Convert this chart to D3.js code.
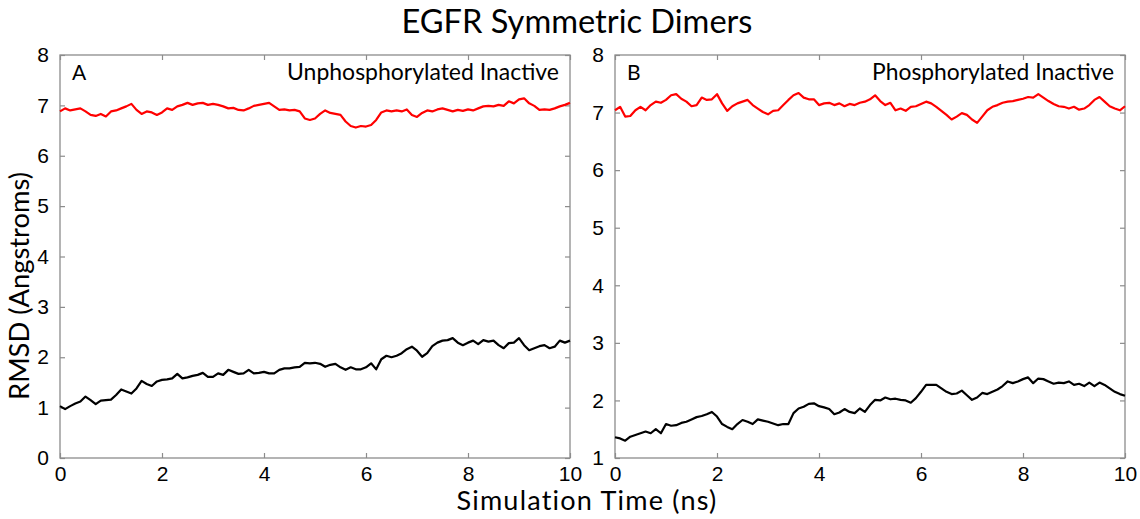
<!DOCTYPE html>
<html><head><meta charset="utf-8">
<script src="https://cdn.jsdelivr.net/npm/d3@7"></script>
<style>body{margin:0;background:#fff}svg{display:block}</style>
</head><body>
<svg id="chart" width="1140" height="519"></svg>
<script>
const timeNs = [0,0.1,0.2,0.3,0.4,0.5,0.6,0.7,0.8,0.9,1,1.1,1.2,1.3,1.4,1.5,1.6,1.7,1.8,1.9,2,2.1,2.2,2.3,2.4,2.5,2.6,2.7,2.8,2.9,3,3.1,3.2,3.3,3.4,3.5,3.6,3.7,3.8,3.9,4,4.1,4.2,4.3,4.4,4.5,4.6,4.7,4.8,4.9,5,5.1,5.2,5.3,5.4,5.5,5.6,5.7,5.8,5.9,6,6.1,6.2,6.3,6.4,6.5,6.6,6.7,6.8,6.9,7,7.1,7.2,7.3,7.4,7.5,7.6,7.7,7.8,7.9,8,8.1,8.2,8.3,8.4,8.5,8.6,8.7,8.8,8.9,9,9.1,9.2,9.3,9.4,9.5,9.6,9.7,9.8,9.9,10];

const redA = [6.88,6.94,6.90,6.92,6.94,6.88,6.81,6.79,6.83,6.78,6.88,6.90,6.94,6.98,7.03,6.91,6.83,6.88,6.86,6.81,6.86,6.94,6.91,6.98,7.01,7.05,7.01,7.04,7.05,7.01,7.03,7.01,6.98,6.94,6.95,6.91,6.90,6.94,6.99,7.01,7.03,7.05,6.98,6.91,6.92,6.90,6.91,6.88,6.74,6.71,6.74,6.83,6.90,6.85,6.83,6.81,6.68,6.59,6.56,6.59,6.58,6.61,6.71,6.86,6.90,6.88,6.90,6.88,6.92,6.81,6.77,6.85,6.90,6.88,6.92,6.94,6.91,6.88,6.91,6.89,6.92,6.90,6.94,6.98,6.99,6.98,7.01,6.99,7.08,7.04,7.12,7.14,7.04,6.99,6.91,6.92,6.91,6.94,6.98,7.01,7.05];
const blackA = [1.03,0.97,1.03,1.08,1.12,1.22,1.15,1.07,1.14,1.15,1.16,1.25,1.36,1.32,1.28,1.38,1.53,1.47,1.43,1.52,1.55,1.56,1.58,1.67,1.58,1.60,1.63,1.65,1.69,1.61,1.61,1.68,1.65,1.75,1.71,1.67,1.68,1.75,1.68,1.69,1.71,1.68,1.68,1.75,1.78,1.78,1.80,1.81,1.89,1.88,1.89,1.87,1.81,1.85,1.87,1.80,1.75,1.80,1.76,1.76,1.80,1.88,1.76,1.96,2.03,2.00,2.03,2.08,2.16,2.21,2.13,2.01,2.08,2.22,2.29,2.33,2.34,2.38,2.29,2.24,2.29,2.33,2.26,2.34,2.31,2.33,2.24,2.18,2.28,2.29,2.38,2.24,2.14,2.18,2.22,2.24,2.18,2.21,2.33,2.29,2.33];
const redB = [7.04,7.10,6.93,6.94,7.04,7.10,7.04,7.13,7.19,7.17,7.22,7.30,7.32,7.24,7.19,7.11,7.13,7.26,7.22,7.23,7.32,7.16,7.03,7.11,7.16,7.19,7.22,7.13,7.07,7.01,6.97,7.03,7.04,7.13,7.22,7.30,7.34,7.26,7.23,7.23,7.13,7.16,7.17,7.13,7.16,7.11,7.15,7.13,7.17,7.19,7.23,7.30,7.20,7.13,7.17,7.04,7.07,7.03,7.10,7.11,7.15,7.19,7.16,7.10,7.03,6.96,6.88,6.93,6.99,6.96,6.88,6.82,6.93,7.04,7.10,7.13,7.17,7.19,7.20,7.22,7.24,7.27,7.26,7.32,7.26,7.20,7.15,7.11,7.10,7.07,7.10,7.05,7.07,7.13,7.22,7.27,7.19,7.11,7.07,7.04,7.11];
const blackB = [1.36,1.34,1.30,1.37,1.40,1.43,1.46,1.43,1.50,1.43,1.59,1.56,1.57,1.61,1.63,1.67,1.71,1.73,1.76,1.80,1.72,1.59,1.54,1.50,1.59,1.66,1.63,1.59,1.67,1.65,1.63,1.60,1.57,1.59,1.59,1.78,1.86,1.89,1.94,1.95,1.90,1.88,1.85,1.76,1.79,1.85,1.80,1.78,1.86,1.80,1.92,2.01,2.00,2.05,2.02,2.03,2.01,2.00,1.96,2.04,2.15,2.27,2.27,2.27,2.21,2.15,2.11,2.12,2.17,2.09,2.01,2.05,2.13,2.11,2.15,2.19,2.25,2.33,2.30,2.33,2.37,2.40,2.30,2.38,2.37,2.33,2.29,2.31,2.30,2.33,2.27,2.29,2.25,2.31,2.25,2.31,2.27,2.21,2.15,2.11,2.08];

const xTicks = [0,2,4,6,8,10];
const yTicksA = [0,1,2,3,4,5,6,7,8];
const yTicksB = [1,2,3,4,5,6,7,8];
const titleText = "EGFR Symmetric Dimers";
const xLabel = "Simulation Time (ns)";
const yLabel = "RMSD (Angstroms)";

const panels = [
  {letter:"A", name:"Unphosphorylated Inactive", nameW:272, left:60, right:570, yDomain:[0,8], yTicks:yTicksA, red:redA, black:blackA},
  {letter:"B", name:"Phosphorylated Inactive", nameW:242, left:615, right:1125, yDomain:[1,8], yTicks:yTicksB, red:redB, black:blackB}
];
const plotTop = 55, plotBottom = 458;
const svg = d3.select("#chart");
const tickFont = "'Liberation Sans', Arial, sans-serif";
const labelFont = "Lato, 'Open Sans', sans-serif";
const boxColor = "#8c8c8c";

function fitText(sel, targetW, base) {
  sel.style("font-size", base + "px");
  const w = sel.node().getComputedTextLength();
  if (w > 0) sel.style("font-size", (base * targetW / w).toFixed(2) + "px");
  return sel;
}

panels.forEach(p => {
  const x = d3.scaleLinear().domain([0,10]).range([p.left, p.right]);
  const y = d3.scaleLinear().domain(p.yDomain).range([plotBottom, plotTop]);
  const g = svg.append("g");

  g.append("rect").attr("x", p.left).attr("y", plotTop).attr("width", p.right-p.left).attr("height", plotBottom-plotTop)
    .attr("fill","none").attr("stroke", boxColor).attr("stroke-width",1.3);

  const styleAxis = sel => {
    sel.select(".domain").remove();
    sel.selectAll(".tick line").attr("stroke", boxColor).attr("stroke-width",1.2);
    sel.selectAll(".tick text").attr("fill","#000").style("font-family", tickFont).style("font-size","21px");
  };
  g.append("g").attr("transform",`translate(0,${plotBottom})`)
    .call(d3.axisBottom(x).tickValues(xTicks).tickFormat(d3.format("d")).tickSizeInner(-5).tickSizeOuter(0).tickPadding(8))
    .call(styleAxis);
  g.append("g").attr("transform",`translate(0,${plotTop})`)
    .call(d3.axisTop(x).tickValues(xTicks).tickFormat("").tickSizeInner(-5).tickSizeOuter(0))
    .call(styleAxis);
  g.append("g").attr("transform",`translate(${p.left},0)`)
    .call(d3.axisLeft(y).tickValues(p.yTicks).tickFormat(d3.format("d")).tickSizeInner(-5).tickSizeOuter(0).tickPadding(11))
    .call(styleAxis);
  g.append("g").attr("transform",`translate(${p.right},0)`)
    .call(d3.axisRight(y).tickValues(p.yTicks).tickFormat("").tickSizeInner(-5).tickSizeOuter(0))
    .call(styleAxis);

  const line = d3.line().x((d,i)=>x(timeNs[i])).y(d=>y(d));
  g.append("path").datum(p.red).attr("d", line).attr("fill","none").attr("stroke","#ff0000").attr("stroke-width",2.2).attr("stroke-linejoin","round");
  g.append("path").datum(p.black).attr("d", line).attr("fill","none").attr("stroke","#000").attr("stroke-width",2.2).attr("stroke-linejoin","round");

  g.append("text").attr("x", p.left+12).attr("y", 80).text(p.letter)
    .style("font-family", labelFont).style("font-size","21px").attr("fill","#000");
  const nm = g.append("text").attr("x", p.right-11).attr("y", 80).attr("text-anchor","end").text(p.name)
    .style("font-family", labelFont).attr("fill","#000");
  fitText(nm, p.nameW, 21);
});

fitText(svg.append("text").attr("x", 577).attr("y", 33).attr("text-anchor","middle").text(titleText)
  .style("font-family", labelFont).attr("fill","#000"), 351, 31);
fitText(svg.append("text").attr("x", 587).attr("y", 510).attr("text-anchor","middle").text(xLabel)
  .style("font-family", labelFont).style("letter-spacing","1.2px").attr("fill","#000"), 262, 26);
fitText(svg.append("text").attr("transform","translate(29,286) rotate(-90)").attr("text-anchor","middle").text(yLabel)
  .style("font-family", labelFont).attr("fill","#000"), 228, 27);
</script>
</body></html>
